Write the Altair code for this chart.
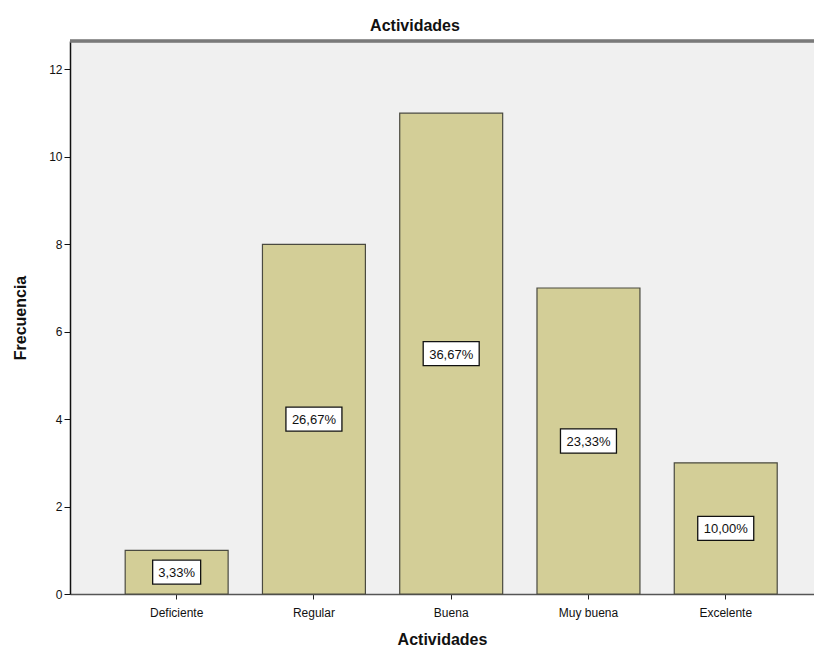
import altair as alt
import pandas as pd

categories = ["Deficiente", "Regular", "Buena", "Muy buena", "Excelente"]
frecuencia = [1, 8, 11, 7, 3]
porcentajes = ["3,33%", "26,67%", "36,67%", "23,33%", "10,00%"]

df = pd.DataFrame({"cat": categories, "freq": frecuencia, "pct": porcentajes})
df["mid"] = df["freq"] / 2.0
# box shape sized roughly to text length
def box(s):
    hw = 1.0 if len(s) >= 6 else 0.857
    hh = 0.43
    return f"M{-hw},{-hh}L{hw},{-hh}L{hw},{hh}L{-hw},{hh}Z"
df["shape"] = df["pct"].apply(box)

FONT = "Liberation Sans"

x = alt.X("cat:N", sort=categories,
          scale=alt.Scale(paddingInner=0.25, paddingOuter=0.335, align=0.6),
          axis=alt.Axis(title="Actividades", labelAngle=0, labelFontSize=12,
                        labelColor="#111", labelFont=FONT, tickSize=5,
                        tickColor="#222", domainColor="#555", domainWidth=1.5,
                        titleFont=FONT, titleFontSize=16, titleFontWeight="bold",
                        titleColor="#111", titlePadding=13, labelPadding=8))
y = alt.Y("freq:Q", scale=alt.Scale(domain=[0, 12.65], nice=False, zero=True),
          axis=alt.Axis(title="Frecuencia", values=[0, 2, 4, 6, 8, 10, 12],
                        grid=False, labelFontSize=12, labelColor="#111", labelFont=FONT,
                        tickSize=6, tickColor="#111", domainColor="#111",
                        domainWidth=1.5, titleFont=FONT, titleFontSize=16,
                        titleFontWeight="bold", titleColor="#111", titlePadding=20,
                        labelPadding=2))

base = alt.Chart(df)

bars = base.mark_bar(fill="#D3CE97", stroke="#4a4a40", strokeWidth=1.2).encode(x=x, y=y)

boxes = base.mark_point(filled=True, fill="white", stroke="#111", strokeWidth=1.3,
                        size=3136, opacity=1).encode(
    x=alt.X("cat:N", sort=categories),
    y=alt.Y("mid:Q"),
    shape=alt.Shape("shape:N", scale=None, legend=None),
)

labels = base.mark_text(font=FONT, fontSize=13, color="#111", baseline="middle",
                        dy=1).encode(
    x=alt.X("cat:N", sort=categories),
    y=alt.Y("mid:Q"),
    text="pct:N",
)

topline = alt.Chart(df).mark_rule(color="#7a7a7a", strokeWidth=2.5).encode(
    x=alt.value(0), x2=alt.value(744), y=alt.value(0)
)

chart = alt.layer(bars, boxes, labels, topline).properties(
    width=744, height=553,
    title=alt.TitleParams("Actividades", font=FONT, fontSize=16, fontWeight="bold",
                          color="#111", dx=-27, offset=6),
    autosize=alt.AutoSizeParams(type="none"),
    padding={"left": 62, "top": 33, "right": 0, "bottom": 56},
).configure_view(fill="#F0F0F0", stroke=None)

chart.save("out.html", embed_options={"renderer": "svg", "actions": False})
